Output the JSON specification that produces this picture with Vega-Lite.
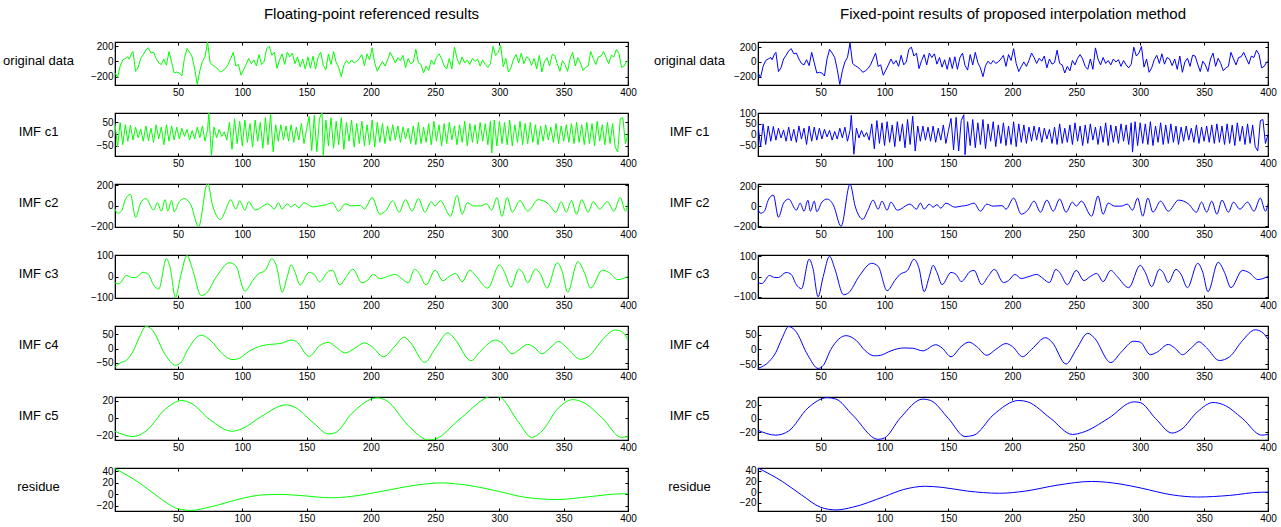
{
"$schema": "https://vega.github.io/schema/vega-lite/v6.json",
"padding": {"left": 1, "top": 6, "right": 0, "bottom": 0},
"background": "white",
"config": {
 "view": {"stroke": "black", "strokeWidth": 1.2},
 "font": "Liberation Sans",
 "axis": {"grid": false, "domainColor": "black", "domainWidth": 1, "tickColor": "black", "tickSize": -3, "labelPadding": 5, "labelFont": "Liberation Sans", "labelFontSize": 10, "labelColor": "black", "labelFlush": false, "labelOverlap": false},
 "axisY": {"titleAngle": 0, "titleY": 18, "titleAlign": "center", "titleBaseline": "middle", "titleFont": "Liberation Sans", "titleFontSize": 13, "titleFontWeight": "normal", "titleColor": "black"},
 "title": {"font": "Liberation Sans", "fontSize": 15, "fontWeight": "normal", "color": "black", "offset": 19.5, "frame": "group", "anchor": "middle"}
},
"datasets": {
 "orig": [{"x":1,"y":-150},{"x":3,"y":-210},{"x":5,"y":-60},{"x":7,"y":20},{"x":9,"y":40},{"x":11,"y":60},{"x":12,"y":30},{"x":14,"y":110},{"x":15,"y":130},{"x":17,"y":-130},{"x":19,"y":-80},{"x":21,"y":40},{"x":23,"y":90},{"x":25,"y":150},{"x":27,"y":180},{"x":29,"y":110},{"x":31,"y":120},{"x":33,"y":40},{"x":35,"y":-20},{"x":37,"y":-40},{"x":39,"y":30},{"x":41,"y":-50},{"x":43,"y":130},{"x":45,"y":-10},{"x":47,"y":-150},{"x":49,"y":-140},{"x":51,"y":-150},{"x":53,"y":-190},{"x":55,"y":40},{"x":57,"y":170},{"x":59,"y":120},{"x":61,"y":60},{"x":63,"y":-100},{"x":65,"y":-305},{"x":67,"y":-120},{"x":69,"y":0},{"x":71,"y":60},{"x":73,"y":256},{"x":75,"y":-20},{"x":77,"y":-50},{"x":79,"y":-70},{"x":81,"y":-100},{"x":83,"y":-140},{"x":85,"y":-120},{"x":87,"y":-90},{"x":89,"y":-40},{"x":91,"y":40},{"x":93,"y":120},{"x":95,"y":-60},{"x":97,"y":-40},{"x":99,"y":-180},{"x":101,"y":-110},{"x":103,"y":-40},{"x":105,"y":40},{"x":107,"y":-30},{"x":109,"y":20},{"x":111,"y":-60},{"x":113,"y":90},{"x":115,"y":-40},{"x":117,"y":0},{"x":119,"y":170},{"x":121,"y":200},{"x":123,"y":80},{"x":125,"y":120},{"x":127,"y":-90},{"x":129,"y":20},{"x":131,"y":100},{"x":133,"y":-40},{"x":135,"y":120},{"x":137,"y":60},{"x":139,"y":110},{"x":141,"y":-30},{"x":143,"y":60},{"x":145,"y":-70},{"x":147,"y":30},{"x":149,"y":-100},{"x":151,"y":60},{"x":153,"y":-90},{"x":155,"y":70},{"x":157,"y":-100},{"x":159,"y":60},{"x":161,"y":120},{"x":163,"y":-50},{"x":165,"y":-110},{"x":167,"y":100},{"x":169,"y":-40},{"x":171,"y":130},{"x":173,"y":-10},{"x":175,"y":-80},{"x":177,"y":-200},{"x":179,"y":-50},{"x":181,"y":10},{"x":183,"y":-30},{"x":185,"y":20},{"x":187,"y":-20},{"x":189,"y":0},{"x":191,"y":40},{"x":193,"y":90},{"x":195,"y":-60},{"x":197,"y":100},{"x":199,"y":20},{"x":201,"y":180},{"x":203,"y":-20},{"x":205,"y":-130},{"x":207,"y":-60},{"x":209,"y":0},{"x":211,"y":-60},{"x":213,"y":20},{"x":215,"y":120},{"x":217,"y":60},{"x":219,"y":-20},{"x":221,"y":50},{"x":223,"y":10},{"x":225,"y":80},{"x":227,"y":-80},{"x":229,"y":40},{"x":231,"y":-30},{"x":233,"y":-10},{"x":235,"y":160},{"x":237,"y":-20},{"x":239,"y":-40},{"x":241,"y":-150},{"x":243,"y":-60},{"x":245,"y":-120},{"x":247,"y":20},{"x":249,"y":-40},{"x":251,"y":50},{"x":253,"y":100},{"x":255,"y":40},{"x":257,"y":-60},{"x":259,"y":-100},{"x":261,"y":40},{"x":263,"y":-100},{"x":265,"y":190},{"x":267,"y":40},{"x":269,"y":-40},{"x":271,"y":60},{"x":273,"y":-20},{"x":275,"y":20},{"x":277,"y":-40},{"x":279,"y":40},{"x":281,"y":0},{"x":283,"y":30},{"x":285,"y":-60},{"x":287,"y":20},{"x":289,"y":-40},{"x":291,"y":-80},{"x":293,"y":-30},{"x":295,"y":200},{"x":297,"y":80},{"x":299,"y":120},{"x":301,"y":210},{"x":303,"y":-70},{"x":305,"y":40},{"x":307,"y":-140},{"x":309,"y":-80},{"x":311,"y":30},{"x":313,"y":90},{"x":315,"y":-20},{"x":317,"y":110},{"x":319,"y":-30},{"x":321,"y":60},{"x":323,"y":40},{"x":325,"y":-50},{"x":327,"y":40},{"x":329,"y":-100},{"x":331,"y":80},{"x":333,"y":-140},{"x":335,"y":0},{"x":337,"y":50},{"x":339,"y":-60},{"x":341,"y":90},{"x":343,"y":80},{"x":345,"y":-30},{"x":347,"y":-130},{"x":349,"y":10},{"x":351,"y":-40},{"x":353,"y":-130},{"x":355,"y":40},{"x":357,"y":120},{"x":359,"y":-60},{"x":361,"y":50},{"x":363,"y":-20},{"x":365,"y":-120},{"x":367,"y":-80},{"x":369,"y":-60},{"x":371,"y":130},{"x":373,"y":40},{"x":375,"y":-40},{"x":377,"y":60},{"x":379,"y":70},{"x":381,"y":130},{"x":383,"y":50},{"x":385,"y":-30},{"x":387,"y":80},{"x":389,"y":60},{"x":391,"y":160},{"x":393,"y":100},{"x":395,"y":-80},{"x":397,"y":-60},{"x":399,"y":0},{"x":400,"y":0}],
 "c1": [{"x":1,"y":45},{"x":3,"y":-55},{"x":5,"y":50},{"x":7,"y":-45},{"x":9,"y":40},{"x":11,"y":-30},{"x":13,"y":38},{"x":15,"y":-25},{"x":17,"y":30},{"x":19,"y":-15},{"x":21,"y":22},{"x":23,"y":-30},{"x":25,"y":35},{"x":27,"y":-28},{"x":29,"y":25},{"x":31,"y":-35},{"x":33,"y":40},{"x":35,"y":-20},{"x":37,"y":30},{"x":39,"y":-45},{"x":41,"y":40},{"x":43,"y":-30},{"x":45,"y":35},{"x":47,"y":-25},{"x":49,"y":30},{"x":51,"y":-20},{"x":53,"y":25},{"x":55,"y":-10},{"x":57,"y":20},{"x":59,"y":-25},{"x":61,"y":15},{"x":63,"y":-20},{"x":65,"y":30},{"x":67,"y":-15},{"x":69,"y":35},{"x":71,"y":-30},{"x":73,"y":20},{"x":74,"y":90},{"x":76,"y":-90},{"x":78,"y":30},{"x":80,"y":-15},{"x":82,"y":20},{"x":84,"y":-10},{"x":86,"y":10},{"x":88,"y":-25},{"x":90,"y":50},{"x":92,"y":-65},{"x":94,"y":65},{"x":96,"y":-40},{"x":98,"y":55},{"x":100,"y":-50},{"x":102,"y":60},{"x":104,"y":-35},{"x":106,"y":45},{"x":108,"y":-55},{"x":110,"y":60},{"x":112,"y":-30},{"x":114,"y":50},{"x":116,"y":-60},{"x":118,"y":70},{"x":120,"y":-45},{"x":122,"y":85},{"x":124,"y":-75},{"x":126,"y":40},{"x":128,"y":-30},{"x":130,"y":40},{"x":132,"y":-25},{"x":134,"y":35},{"x":136,"y":-30},{"x":138,"y":40},{"x":140,"y":-35},{"x":142,"y":30},{"x":144,"y":-25},{"x":146,"y":45},{"x":148,"y":-40},{"x":150,"y":20},{"x":152,"y":75},{"x":154,"y":-70},{"x":156,"y":80},{"x":158,"y":-75},{"x":160,"y":65},{"x":162,"y":92},{"x":163,"y":-92},{"x":165,"y":60},{"x":167,"y":-50},{"x":169,"y":70},{"x":171,"y":-60},{"x":173,"y":55},{"x":175,"y":-45},{"x":177,"y":70},{"x":179,"y":-65},{"x":181,"y":50},{"x":183,"y":-30},{"x":185,"y":60},{"x":187,"y":-55},{"x":189,"y":45},{"x":191,"y":-40},{"x":193,"y":55},{"x":195,"y":-50},{"x":197,"y":40},{"x":199,"y":-45},{"x":201,"y":60},{"x":203,"y":-55},{"x":205,"y":50},{"x":207,"y":-35},{"x":209,"y":45},{"x":211,"y":-40},{"x":213,"y":35},{"x":215,"y":-30},{"x":217,"y":40},{"x":219,"y":-25},{"x":221,"y":35},{"x":223,"y":-35},{"x":225,"y":30},{"x":227,"y":-20},{"x":229,"y":25},{"x":231,"y":-40},{"x":233,"y":35},{"x":235,"y":-45},{"x":237,"y":50},{"x":239,"y":-40},{"x":241,"y":30},{"x":243,"y":-35},{"x":245,"y":45},{"x":247,"y":-45},{"x":249,"y":55},{"x":251,"y":-30},{"x":253,"y":40},{"x":255,"y":-50},{"x":257,"y":45},{"x":259,"y":-40},{"x":261,"y":50},{"x":263,"y":-25},{"x":265,"y":35},{"x":267,"y":-45},{"x":269,"y":40},{"x":271,"y":-35},{"x":273,"y":55},{"x":275,"y":-50},{"x":277,"y":45},{"x":279,"y":-35},{"x":281,"y":40},{"x":283,"y":-40},{"x":285,"y":50},{"x":287,"y":-30},{"x":289,"y":45},{"x":291,"y":-45},{"x":293,"y":55},{"x":294,"y":-80},{"x":296,"y":60},{"x":298,"y":-50},{"x":300,"y":55},{"x":302,"y":-40},{"x":304,"y":50},{"x":306,"y":-45},{"x":308,"y":60},{"x":310,"y":-50},{"x":312,"y":40},{"x":314,"y":-35},{"x":316,"y":55},{"x":318,"y":-45},{"x":320,"y":45},{"x":322,"y":-40},{"x":324,"y":50},{"x":326,"y":-35},{"x":328,"y":40},{"x":330,"y":-45},{"x":332,"y":35},{"x":334,"y":-30},{"x":336,"y":40},{"x":338,"y":-25},{"x":340,"y":30},{"x":342,"y":-35},{"x":344,"y":45},{"x":346,"y":-40},{"x":348,"y":35},{"x":350,"y":-30},{"x":352,"y":40},{"x":354,"y":-35},{"x":356,"y":45},{"x":358,"y":-40},{"x":360,"y":50},{"x":362,"y":-35},{"x":364,"y":40},{"x":366,"y":-45},{"x":368,"y":50},{"x":370,"y":-40},{"x":372,"y":45},{"x":374,"y":-50},{"x":376,"y":55},{"x":378,"y":-30},{"x":380,"y":40},{"x":382,"y":-45},{"x":384,"y":50},{"x":386,"y":-40},{"x":388,"y":45},{"x":390,"y":-55},{"x":392,"y":-75},{"x":394,"y":65},{"x":396,"y":70},{"x":398,"y":-40},{"x":400,"y":0}],
 "c2": [{"x":1,"y":-30},{"x":3,"y":-70},{"x":6,"y":-50},{"x":9,"y":60},{"x":13,"y":110},{"x":17,"y":-110},{"x":21,"y":30},{"x":25,"y":70},{"x":31,"y":-40},{"x":34,"y":30},{"x":37,"y":-50},{"x":40,"y":60},{"x":42,"y":-50},{"x":45,"y":50},{"x":47,"y":-55},{"x":51,"y":40},{"x":55,"y":70},{"x":60,"y":10},{"x":66,"y":-200},{"x":73,"y":220},{"x":77,"y":0},{"x":83,"y":-130},{"x":87,"y":-40},{"x":91,"y":60},{"x":95,"y":-30},{"x":98,"y":50},{"x":102,"y":-40},{"x":105,"y":40},{"x":110,"y":-40},{"x":120,"y":20},{"x":125,"y":-30},{"x":128,"y":30},{"x":131,"y":-30},{"x":135,"y":20},{"x":138,"y":-10},{"x":141,"y":15},{"x":144,"y":-20},{"x":148,"y":30},{"x":155,"y":-10},{"x":160,"y":0},{"x":165,"y":10},{"x":170,"y":30},{"x":175,"y":-50},{"x":180,"y":20},{"x":185,"y":0},{"x":192,"y":5},{"x":195,"y":-30},{"x":201,"y":80},{"x":207,"y":-80},{"x":212,"y":-40},{"x":217,"y":50},{"x":222,"y":-60},{"x":227,"y":60},{"x":232,"y":-50},{"x":237,"y":70},{"x":242,"y":-60},{"x":247,"y":40},{"x":250,"y":0},{"x":254,"y":50},{"x":262,"y":-100},{"x":267,"y":100},{"x":271,"y":-80},{"x":275,"y":30},{"x":280,"y":0},{"x":285,"y":0},{"x":290,"y":20},{"x":294,"y":-40},{"x":298,"y":80},{"x":302,"y":-100},{"x":306,"y":80},{"x":310,"y":-60},{"x":316,"y":50},{"x":322,"y":-50},{"x":330,"y":60},{"x":338,"y":20},{"x":344,"y":-60},{"x":348,"y":40},{"x":352,"y":-60},{"x":356,"y":50},{"x":360,"y":-80},{"x":364,"y":60},{"x":369,"y":-60},{"x":373,"y":40},{"x":378,"y":-30},{"x":384,"y":40},{"x":389,"y":-50},{"x":394,"y":80},{"x":398,"y":-50},{"x":400,"y":20}],
 "c3": [{"x":1,"y":-30},{"x":4,"y":-35},{"x":10,"y":5},{"x":14,"y":-5},{"x":17,"y":-5},{"x":23,"y":20},{"x":27,"y":10},{"x":31,"y":-40},{"x":35,"y":-60},{"x":41,"y":85},{"x":44,"y":40},{"x":48,"y":-100},{"x":52,"y":0},{"x":57,"y":100},{"x":61,"y":40},{"x":68,"y":-90},{"x":72,"y":-80},{"x":80,"y":0},{"x":90,"y":65},{"x":95,"y":50},{"x":102,"y":-70},{"x":108,"y":-20},{"x":112,"y":10},{"x":118,"y":30},{"x":123,"y":85},{"x":127,"y":40},{"x":131,"y":-75},{"x":135,"y":0},{"x":138,"y":55},{"x":141,"y":20},{"x":145,"y":-40},{"x":152,"y":20},{"x":156,"y":10},{"x":160,"y":-25},{"x":167,"y":25},{"x":170,"y":30},{"x":176,"y":-40},{"x":181,"y":0},{"x":186,"y":35},{"x":193,"y":-30},{"x":197,"y":-20},{"x":202,"y":10},{"x":207,"y":-10},{"x":213,"y":0},{"x":219,"y":10},{"x":224,"y":-10},{"x":229,"y":-30},{"x":234,"y":35},{"x":237,"y":20},{"x":243,"y":-40},{"x":250,"y":30},{"x":256,"y":-20},{"x":261,"y":0},{"x":266,"y":15},{"x":271,"y":-25},{"x":277,"y":30},{"x":282,"y":0},{"x":291,"y":-55},{"x":300,"y":55},{"x":304,"y":20},{"x":309,"y":-50},{"x":315,"y":35},{"x":318,"y":20},{"x":322,"y":-30},{"x":328,"y":35},{"x":332,"y":10},{"x":337,"y":-55},{"x":345,"y":65},{"x":349,"y":20},{"x":353,"y":-75},{"x":361,"y":70},{"x":366,"y":20},{"x":371,"y":-55},{"x":380,"y":30},{"x":385,"y":20},{"x":392,"y":-15},{"x":400,"y":0}],
 "c4L": [{"x":1,"y":-65},{"x":5,"y":-50},{"x":10,"y":-40},{"x":15,"y":-10},{"x":20,"y":40},{"x":25,"y":78},{"x":30,"y":65},{"x":40,"y":-20},{"x":48,"y":-58},{"x":52,"y":-50},{"x":58,"y":0},{"x":68,"y":47},{"x":75,"y":30},{"x":85,"y":-20},{"x":92,"y":-38},{"x":97,"y":-35},{"x":105,"y":-10},{"x":115,"y":10},{"x":122,"y":15},{"x":130,"y":18},{"x":138,"y":30},{"x":142,"y":25},{"x":152,"y":-27},{"x":160,"y":10},{"x":167,"y":22},{"x":173,"y":5},{"x":180,"y":-15},{"x":187,"y":0},{"x":195,"y":20},{"x":200,"y":10},{"x":210,"y":-28},{"x":218,"y":5},{"x":226,"y":40},{"x":231,"y":20},{"x":242,"y":-48},{"x":250,"y":0},{"x":260,"y":55},{"x":265,"y":35},{"x":278,"y":-42},{"x":285,"y":-10},{"x":297,"y":30},{"x":302,"y":20},{"x":310,"y":-18},{"x":315,"y":-5},{"x":322,"y":15},{"x":327,"y":5},{"x":333,"y":-18},{"x":340,"y":5},{"x":346,"y":25},{"x":352,"y":5},{"x":363,"y":-37},{"x":370,"y":-25},{"x":380,"y":30},{"x":390,"y":65},{"x":395,"y":60},{"x":400,"y":30}],
 "c4R": [{"x":1,"y":-65},{"x":10,"y":-40},{"x":15,"y":-10},{"x":20,"y":40},{"x":25,"y":78},{"x":30,"y":65},{"x":40,"y":-20},{"x":48,"y":-65},{"x":52,"y":-55},{"x":58,"y":0},{"x":70,"y":47},{"x":78,"y":30},{"x":85,"y":-5},{"x":92,"y":-22},{"x":97,"y":-20},{"x":105,"y":-5},{"x":115,"y":5},{"x":122,"y":4},{"x":130,"y":-5},{"x":140,"y":16},{"x":145,"y":5},{"x":152,"y":-25},{"x":160,"y":10},{"x":166,"y":25},{"x":172,"y":10},{"x":180,"y":-20},{"x":187,"y":0},{"x":195,"y":20},{"x":200,"y":10},{"x":208,"y":-25},{"x":215,"y":0},{"x":226,"y":40},{"x":231,"y":25},{"x":242,"y":-50},{"x":250,"y":0},{"x":259,"y":55},{"x":264,"y":40},{"x":277,"y":-45},{"x":285,"y":-10},{"x":295,"y":28},{"x":300,"y":25},{"x":308,"y":-18},{"x":313,"y":-10},{"x":322,"y":17},{"x":327,"y":5},{"x":333,"y":-18},{"x":340,"y":5},{"x":346,"y":26},{"x":352,"y":5},{"x":362,"y":-38},{"x":370,"y":-25},{"x":380,"y":30},{"x":390,"y":67},{"x":395,"y":60},{"x":400,"y":35}],
 "c5L": [{"x":1,"y":-15},{"x":15,"y":-21},{"x":25,"y":-15},{"x":40,"y":10},{"x":53,"y":20},{"x":60,"y":17},{"x":75,"y":-2},{"x":92,"y":-15},{"x":100,"y":-12},{"x":115,"y":2},{"x":134,"y":15},{"x":140,"y":13},{"x":155,"y":-5},{"x":167,"y":-18},{"x":172,"y":-17},{"x":185,"y":5},{"x":205,"y":23},{"x":212,"y":20},{"x":230,"y":-10},{"x":245,"y":-25},{"x":250,"y":-24},{"x":270,"y":0},{"x":295,"y":25},{"x":300,"y":24},{"x":315,"y":-5},{"x":325,"y":-22},{"x":333,"y":-15},{"x":345,"y":10},{"x":357,"y":21},{"x":365,"y":18},{"x":380,"y":0},{"x":395,"y":-22},{"x":400,"y":-21}],
 "c5R": [{"x":1,"y":-17},{"x":15,"y":-24},{"x":25,"y":-18},{"x":40,"y":15},{"x":55,"y":30},{"x":62,"y":28},{"x":75,"y":5},{"x":95,"y":-30},{"x":100,"y":-28},{"x":112,"y":0},{"x":130,"y":28},{"x":136,"y":26},{"x":150,"y":0},{"x":163,"y":-26},{"x":170,"y":-24},{"x":185,"y":5},{"x":205,"y":26},{"x":212,"y":24},{"x":230,"y":0},{"x":247,"y":-23},{"x":255,"y":-20},{"x":275,"y":0},{"x":295,"y":24},{"x":300,"y":23},{"x":312,"y":0},{"x":325,"y":-21},{"x":332,"y":-16},{"x":345,"y":10},{"x":357,"y":23},{"x":365,"y":20},{"x":380,"y":0},{"x":395,"y":-24},{"x":400,"y":-23}],
 "resL": [{"x":1,"y":45},{"x":20,"y":20},{"x":35,"y":-5},{"x":50,"y":-25},{"x":60,"y":-28},{"x":75,"y":-22},{"x":100,"y":-7},{"x":115,"y":-1},{"x":130,"y":0},{"x":145,"y":-2},{"x":170,"y":-6},{"x":190,"y":-2},{"x":210,"y":6},{"x":235,"y":16},{"x":255,"y":20},{"x":275,"y":16},{"x":300,"y":5},{"x":320,"y":-5},{"x":345,"y":-9},{"x":370,"y":-4},{"x":395,"y":1},{"x":400,"y":1}],
 "resR": [{"x":1,"y":45},{"x":20,"y":20},{"x":35,"y":-5},{"x":50,"y":-28},{"x":62,"y":-33},{"x":75,"y":-28},{"x":100,"y":-8},{"x":115,"y":5},{"x":132,"y":11},{"x":145,"y":9},{"x":165,"y":2},{"x":190,"y":-2},{"x":210,"y":2},{"x":235,"y":13},{"x":262,"y":20},{"x":285,"y":15},{"x":300,"y":8},{"x":325,"y":-5},{"x":345,"y":-9},{"x":370,"y":-6},{"x":395,"y":0},{"x":400,"y":0}]
},
"columns": 2,
"spacing": {"row": 28, "column": 130},
"bounds": "flush",
"concat": [
 {"width": 513, "height": 43, "title": "Floating-point referenced results", "data": {"name": "orig"}, "resolve": {"axis": {"x": "independent", "y": "independent"}}, "layer": [
  {"mark": {"type": "line", "color": "#00ff00", "strokeWidth": 1, "clip": true}, "encoding": {"x": {"field": "x", "type": "quantitative", "scale": {"domain": [1, 400], "nice": false, "zero": false}, "axis": {"values": [50,100,150,200,250,300,350,400], "title": null}}, "y": {"field": "y", "type": "quantitative", "scale": {"domain": [-310, 256], "nice": false, "zero": false}, "axis": {"values": [-200,0,200], "title": "original data", "titleX": -77}}}},
  {"mark": {"type": "line", "opacity": 0, "clip": true}, "encoding": {"x": {"field": "x", "type": "quantitative", "scale": {"domain": [1, 400], "nice": false, "zero": false}, "axis": {"orient": "top", "labels": false, "domain": false, "values": [50,100,150,200,250,300,350,400], "title": null}}, "y": {"field": "y", "type": "quantitative", "scale": {"domain": [-310, 256], "nice": false, "zero": false}, "axis": {"orient": "right", "labels": false, "domain": false, "values": [-200,0,200], "title": null}}}}]},
 {"width": 510, "height": 43, "title": "Fixed-point results of proposed interpolation method", "data": {"name": "orig"}, "resolve": {"axis": {"x": "independent", "y": "independent"}}, "layer": [
  {"mark": {"type": "line", "color": "#0000ff", "strokeWidth": 1, "clip": true}, "encoding": {"x": {"field": "x", "type": "quantitative", "scale": {"domain": [1, 400], "nice": false, "zero": false}, "axis": {"values": [50,100,150,200,250,300,350,400], "title": null}}, "y": {"field": "y", "type": "quantitative", "scale": {"domain": [-312, 270], "nice": false, "zero": false}, "axis": {"values": [-200,0,200], "title": "original data", "titleX": -69}}}},
  {"mark": {"type": "line", "opacity": 0, "clip": true}, "encoding": {"x": {"field": "x", "type": "quantitative", "scale": {"domain": [1, 400], "nice": false, "zero": false}, "axis": {"orient": "top", "labels": false, "domain": false, "values": [50,100,150,200,250,300,350,400], "title": null}}, "y": {"field": "y", "type": "quantitative", "scale": {"domain": [-312, 270], "nice": false, "zero": false}, "axis": {"orient": "right", "labels": false, "domain": false, "values": [-200,0,200], "title": null}}}}]},
 {"width": 513, "height": 43, "data": {"name": "c1"}, "resolve": {"axis": {"x": "independent", "y": "independent"}}, "layer": [
  {"mark": {"type": "line", "color": "#00ff00", "strokeWidth": 1, "clip": true}, "encoding": {"x": {"field": "x", "type": "quantitative", "scale": {"domain": [1, 400], "nice": false, "zero": false}, "axis": {"values": [50,100,150,200,250,300,350,400], "title": null}}, "y": {"field": "y", "type": "quantitative", "scale": {"domain": [-93, 90], "nice": false, "zero": false}, "axis": {"values": [-50,0,50], "title": "IMF c1", "titleX": -77}}}},
  {"mark": {"type": "line", "opacity": 0, "clip": true}, "encoding": {"x": {"field": "x", "type": "quantitative", "scale": {"domain": [1, 400], "nice": false, "zero": false}, "axis": {"orient": "top", "labels": false, "domain": false, "values": [50,100,150,200,250,300,350,400], "title": null}}, "y": {"field": "y", "type": "quantitative", "scale": {"domain": [-93, 90], "nice": false, "zero": false}, "axis": {"orient": "right", "labels": false, "domain": false, "values": [-50,0,50], "title": null}}}}]},
 {"width": 510, "height": 43, "data": {"name": "c1"}, "resolve": {"axis": {"x": "independent", "y": "independent"}}, "layer": [
  {"mark": {"type": "line", "color": "#0000ff", "strokeWidth": 1, "clip": true}, "encoding": {"x": {"field": "x", "type": "quantitative", "scale": {"domain": [1, 400], "nice": false, "zero": false}, "axis": {"values": [50,100,150,200,250,300,350,400], "title": null}}, "y": {"field": "y", "type": "quantitative", "scale": {"domain": [-98, 100], "nice": false, "zero": false}, "axis": {"values": [-50,0,50,100], "title": "IMF c1", "titleX": -69}}}},
  {"mark": {"type": "line", "opacity": 0, "clip": true}, "encoding": {"x": {"field": "x", "type": "quantitative", "scale": {"domain": [1, 400], "nice": false, "zero": false}, "axis": {"orient": "top", "labels": false, "domain": false, "values": [50,100,150,200,250,300,350,400], "title": null}}, "y": {"field": "y", "type": "quantitative", "scale": {"domain": [-98, 100], "nice": false, "zero": false}, "axis": {"orient": "right", "labels": false, "domain": false, "values": [-50,0,50,100], "title": null}}}}]},
 {"width": 513, "height": 43, "data": {"name": "c2"}, "resolve": {"axis": {"x": "independent", "y": "independent"}}, "layer": [
  {"mark": {"type": "line", "color": "#00ff00", "strokeWidth": 1, "clip": true, "interpolate": "monotone"}, "encoding": {"x": {"field": "x", "type": "quantitative", "scale": {"domain": [1, 400], "nice": false, "zero": false}, "axis": {"values": [50,100,150,200,250,300,350,400], "title": null}}, "y": {"field": "y", "type": "quantitative", "scale": {"domain": [-202, 210], "nice": false, "zero": false}, "axis": {"values": [-200,0,200], "title": "IMF c2", "titleX": -77}}}},
  {"mark": {"type": "line", "opacity": 0, "clip": true}, "encoding": {"x": {"field": "x", "type": "quantitative", "scale": {"domain": [1, 400], "nice": false, "zero": false}, "axis": {"orient": "top", "labels": false, "domain": false, "values": [50,100,150,200,250,300,350,400], "title": null}}, "y": {"field": "y", "type": "quantitative", "scale": {"domain": [-202, 210], "nice": false, "zero": false}, "axis": {"orient": "right", "labels": false, "domain": false, "values": [-200,0,200], "title": null}}}}]},
 {"width": 510, "height": 43, "data": {"name": "c2"}, "resolve": {"axis": {"x": "independent", "y": "independent"}}, "layer": [
  {"mark": {"type": "line", "color": "#0000ff", "strokeWidth": 1, "clip": true, "interpolate": "monotone"}, "encoding": {"x": {"field": "x", "type": "quantitative", "scale": {"domain": [1, 400], "nice": false, "zero": false}, "axis": {"values": [50,100,150,200,250,300,350,400], "title": null}}, "y": {"field": "y", "type": "quantitative", "scale": {"domain": [-207, 220], "nice": false, "zero": false}, "axis": {"values": [-200,0,200], "title": "IMF c2", "titleX": -69}}}},
  {"mark": {"type": "line", "opacity": 0, "clip": true}, "encoding": {"x": {"field": "x", "type": "quantitative", "scale": {"domain": [1, 400], "nice": false, "zero": false}, "axis": {"orient": "top", "labels": false, "domain": false, "values": [50,100,150,200,250,300,350,400], "title": null}}, "y": {"field": "y", "type": "quantitative", "scale": {"domain": [-207, 220], "nice": false, "zero": false}, "axis": {"orient": "right", "labels": false, "domain": false, "values": [-200,0,200], "title": null}}}}]},
 {"width": 513, "height": 43, "data": {"name": "c3"}, "resolve": {"axis": {"x": "independent", "y": "independent"}}, "layer": [
  {"mark": {"type": "line", "color": "#00ff00", "strokeWidth": 1, "clip": true, "interpolate": "monotone"}, "encoding": {"x": {"field": "x", "type": "quantitative", "scale": {"domain": [1, 400], "nice": false, "zero": false}, "axis": {"values": [50,100,150,200,250,300,350,400], "title": null}}, "y": {"field": "y", "type": "quantitative", "scale": {"domain": [-102, 102], "nice": false, "zero": false}, "axis": {"values": [-100,0,100], "title": "IMF c3", "titleX": -77}}}},
  {"mark": {"type": "line", "opacity": 0, "clip": true}, "encoding": {"x": {"field": "x", "type": "quantitative", "scale": {"domain": [1, 400], "nice": false, "zero": false}, "axis": {"orient": "top", "labels": false, "domain": false, "values": [50,100,150,200,250,300,350,400], "title": null}}, "y": {"field": "y", "type": "quantitative", "scale": {"domain": [-102, 102], "nice": false, "zero": false}, "axis": {"orient": "right", "labels": false, "domain": false, "values": [-100,0,100], "title": null}}}}]},
 {"width": 510, "height": 43, "data": {"name": "c3"}, "resolve": {"axis": {"x": "independent", "y": "independent"}}, "layer": [
  {"mark": {"type": "line", "color": "#0000ff", "strokeWidth": 1, "clip": true, "interpolate": "monotone"}, "encoding": {"x": {"field": "x", "type": "quantitative", "scale": {"domain": [1, 400], "nice": false, "zero": false}, "axis": {"values": [50,100,150,200,250,300,350,400], "title": null}}, "y": {"field": "y", "type": "quantitative", "scale": {"domain": [-106, 106], "nice": false, "zero": false}, "axis": {"values": [-100,0,100], "title": "IMF c3", "titleX": -69}}}},
  {"mark": {"type": "line", "opacity": 0, "clip": true}, "encoding": {"x": {"field": "x", "type": "quantitative", "scale": {"domain": [1, 400], "nice": false, "zero": false}, "axis": {"orient": "top", "labels": false, "domain": false, "values": [50,100,150,200,250,300,350,400], "title": null}}, "y": {"field": "y", "type": "quantitative", "scale": {"domain": [-106, 106], "nice": false, "zero": false}, "axis": {"orient": "right", "labels": false, "domain": false, "values": [-100,0,100], "title": null}}}}]},
 {"width": 513, "height": 43, "data": {"name": "c4L"}, "resolve": {"axis": {"x": "independent", "y": "independent"}}, "layer": [
  {"mark": {"type": "line", "color": "#00ff00", "strokeWidth": 1, "clip": true, "interpolate": "monotone"}, "encoding": {"x": {"field": "x", "type": "quantitative", "scale": {"domain": [1, 400], "nice": false, "zero": false}, "axis": {"values": [50,100,150,200,250,300,350,400], "title": null}}, "y": {"field": "y", "type": "quantitative", "scale": {"domain": [-71, 79], "nice": false, "zero": false}, "axis": {"values": [-50,0,50], "title": "IMF c4", "titleX": -77}}}},
  {"mark": {"type": "line", "opacity": 0, "clip": true}, "encoding": {"x": {"field": "x", "type": "quantitative", "scale": {"domain": [1, 400], "nice": false, "zero": false}, "axis": {"orient": "top", "labels": false, "domain": false, "values": [50,100,150,200,250,300,350,400], "title": null}}, "y": {"field": "y", "type": "quantitative", "scale": {"domain": [-71, 79], "nice": false, "zero": false}, "axis": {"orient": "right", "labels": false, "domain": false, "values": [-50,0,50], "title": null}}}}]},
 {"width": 510, "height": 43, "data": {"name": "c4R"}, "resolve": {"axis": {"x": "independent", "y": "independent"}}, "layer": [
  {"mark": {"type": "line", "color": "#0000ff", "strokeWidth": 1, "clip": true, "interpolate": "monotone"}, "encoding": {"x": {"field": "x", "type": "quantitative", "scale": {"domain": [1, 400], "nice": false, "zero": false}, "axis": {"values": [50,100,150,200,250,300,350,400], "title": null}}, "y": {"field": "y", "type": "quantitative", "scale": {"domain": [-67, 80], "nice": false, "zero": false}, "axis": {"values": [-50,0,50], "title": "IMF c4", "titleX": -69}}}},
  {"mark": {"type": "line", "opacity": 0, "clip": true}, "encoding": {"x": {"field": "x", "type": "quantitative", "scale": {"domain": [1, 400], "nice": false, "zero": false}, "axis": {"orient": "top", "labels": false, "domain": false, "values": [50,100,150,200,250,300,350,400], "title": null}}, "y": {"field": "y", "type": "quantitative", "scale": {"domain": [-67, 80], "nice": false, "zero": false}, "axis": {"orient": "right", "labels": false, "domain": false, "values": [-50,0,50], "title": null}}}}]},
 {"width": 513, "height": 43, "data": {"name": "c5L"}, "resolve": {"axis": {"x": "independent", "y": "independent"}}, "layer": [
  {"mark": {"type": "line", "color": "#00ff00", "strokeWidth": 1, "clip": true, "interpolate": "monotone"}, "encoding": {"x": {"field": "x", "type": "quantitative", "scale": {"domain": [1, 400], "nice": false, "zero": false}, "axis": {"values": [50,100,150,200,250,300,350,400], "title": null}}, "y": {"field": "y", "type": "quantitative", "scale": {"domain": [-25, 24], "nice": false, "zero": false}, "axis": {"values": [-20,0,20], "title": "IMF c5", "titleX": -77}}}},
  {"mark": {"type": "line", "opacity": 0, "clip": true}, "encoding": {"x": {"field": "x", "type": "quantitative", "scale": {"domain": [1, 400], "nice": false, "zero": false}, "axis": {"orient": "top", "labels": false, "domain": false, "values": [50,100,150,200,250,300,350,400], "title": null}}, "y": {"field": "y", "type": "quantitative", "scale": {"domain": [-25, 24], "nice": false, "zero": false}, "axis": {"orient": "right", "labels": false, "domain": false, "values": [-20,0,20], "title": null}}}}]},
 {"width": 510, "height": 43, "data": {"name": "c5R"}, "resolve": {"axis": {"x": "independent", "y": "independent"}}, "layer": [
  {"mark": {"type": "line", "color": "#0000ff", "strokeWidth": 1, "clip": true, "interpolate": "monotone"}, "encoding": {"x": {"field": "x", "type": "quantitative", "scale": {"domain": [1, 400], "nice": false, "zero": false}, "axis": {"values": [50,100,150,200,250,300,350,400], "title": null}}, "y": {"field": "y", "type": "quantitative", "scale": {"domain": [-31, 31], "nice": false, "zero": false}, "axis": {"values": [-20,0,20], "title": "IMF c5", "titleX": -69}}}},
  {"mark": {"type": "line", "opacity": 0, "clip": true}, "encoding": {"x": {"field": "x", "type": "quantitative", "scale": {"domain": [1, 400], "nice": false, "zero": false}, "axis": {"orient": "top", "labels": false, "domain": false, "values": [50,100,150,200,250,300,350,400], "title": null}}, "y": {"field": "y", "type": "quantitative", "scale": {"domain": [-31, 31], "nice": false, "zero": false}, "axis": {"orient": "right", "labels": false, "domain": false, "values": [-20,0,20], "title": null}}}}]},
 {"width": 513, "height": 43, "data": {"name": "resL"}, "resolve": {"axis": {"x": "independent", "y": "independent"}}, "layer": [
  {"mark": {"type": "line", "color": "#00ff00", "strokeWidth": 1, "clip": true, "interpolate": "monotone"}, "encoding": {"x": {"field": "x", "type": "quantitative", "scale": {"domain": [1, 400], "nice": false, "zero": false}, "axis": {"values": [50,100,150,200,250,300,350,400], "title": null}}, "y": {"field": "y", "type": "quantitative", "scale": {"domain": [-29, 46], "nice": false, "zero": false}, "axis": {"values": [-20,0,20,40], "title": "residue", "titleX": -77}}}},
  {"mark": {"type": "line", "opacity": 0, "clip": true}, "encoding": {"x": {"field": "x", "type": "quantitative", "scale": {"domain": [1, 400], "nice": false, "zero": false}, "axis": {"orient": "top", "labels": false, "domain": false, "values": [50,100,150,200,250,300,350,400], "title": null}}, "y": {"field": "y", "type": "quantitative", "scale": {"domain": [-29, 46], "nice": false, "zero": false}, "axis": {"orient": "right", "labels": false, "domain": false, "values": [-20,0,20,40], "title": null}}}}]},
 {"width": 510, "height": 43, "data": {"name": "resR"}, "resolve": {"axis": {"x": "independent", "y": "independent"}}, "layer": [
  {"mark": {"type": "line", "color": "#0000ff", "strokeWidth": 1, "clip": true, "interpolate": "monotone"}, "encoding": {"x": {"field": "x", "type": "quantitative", "scale": {"domain": [1, 400], "nice": false, "zero": false}, "axis": {"values": [50,100,150,200,250,300,350,400], "title": null}}, "y": {"field": "y", "type": "quantitative", "scale": {"domain": [-35, 45], "nice": false, "zero": false}, "axis": {"values": [-20,0,20,40], "title": "residue", "titleX": -69}}}},
  {"mark": {"type": "line", "opacity": 0, "clip": true}, "encoding": {"x": {"field": "x", "type": "quantitative", "scale": {"domain": [1, 400], "nice": false, "zero": false}, "axis": {"orient": "top", "labels": false, "domain": false, "values": [50,100,150,200,250,300,350,400], "title": null}}, "y": {"field": "y", "type": "quantitative", "scale": {"domain": [-35, 45], "nice": false, "zero": false}, "axis": {"orient": "right", "labels": false, "domain": false, "values": [-20,0,20,40], "title": null}}}}]}
]
}
